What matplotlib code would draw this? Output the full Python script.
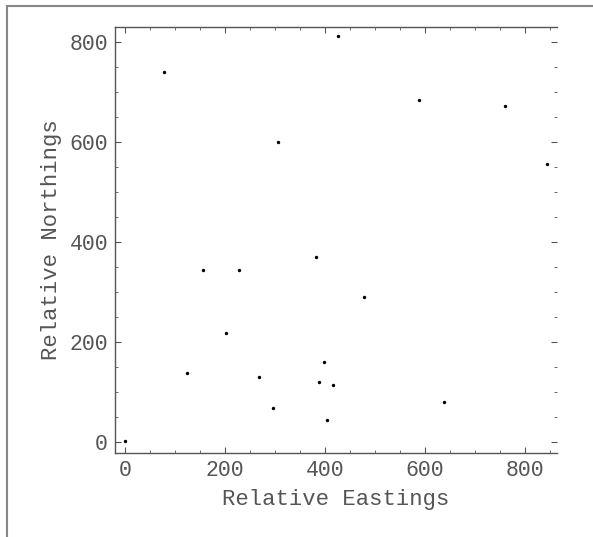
import matplotlib
matplotlib.use("Agg")
import matplotlib.pyplot as plt
from matplotlib.lines import Line2D
from matplotlib.ticker import MultipleLocator

eastings = [0, 157, 229, 381, 203, 125, 268, 296, 397, 388, 415, 403,
            477, 637, 79, 305, 425, 587, 759, 843]
northings = [2, 344, 345, 371, 218, 139, 131, 68, 161, 121, 115, 45,
             291, 81, 741, 601, 812, 685, 672, 557]
xticks = [0, 200, 400, 600, 800]
yticks = [0, 200, 400, 600, 800]

fig = plt.figure(figsize=(5.93, 5.37), dpi=100)
ax = fig.add_axes([0.1939, 0.157, 0.9385 - 0.1939, 0.9492 - 0.157])

ax.scatter(eastings, northings, s=6, c="black", marker="o", linewidths=0)

ax.set_xlim(-20, 863)
ax.set_ylim(-21, 830)
ax.set_xticks(xticks)
ax.set_yticks(yticks)
ax.xaxis.set_minor_locator(MultipleLocator(50))
ax.yaxis.set_minor_locator(MultipleLocator(50))

spine_col = "#555555"
txt_col = "#555555"
for side in ["left", "bottom", "top"]:
    ax.spines[side].set_color(spine_col)
    ax.spines[side].set_linewidth(1.0)
ax.spines["right"].set_visible(False)

ax.tick_params(which="both", direction="in", top=True, right=True,
               color=spine_col, labelcolor=txt_col)
ax.tick_params(which="major", length=4, width=0.8, labelsize=15.5, pad=5)
ax.tick_params(which="minor", length=2.2, width=0.6)

font = "Liberation Mono"
for lbl in ax.get_xticklabels() + ax.get_yticklabels():
    lbl.set_fontfamily(font)

ax.set_xlabel("Relative Eastings", fontsize=16, family=font, color=txt_col, labelpad=6)
ax.set_ylabel("Relative Northings", fontsize=16, family=font, color=txt_col, labelpad=5)

# outer frame lines (top and left)
fig.add_artist(Line2D([7 / 593, 1.0], [1 - 6 / 537, 1 - 6 / 537],
                      transform=fig.transFigure, color="#888888", lw=1.5))
fig.add_artist(Line2D([7 / 593, 7 / 593], [0.0, 1 - 6 / 537],
                      transform=fig.transFigure, color="#888888", lw=1.5))

fig.savefig("out.png", dpi=100)
